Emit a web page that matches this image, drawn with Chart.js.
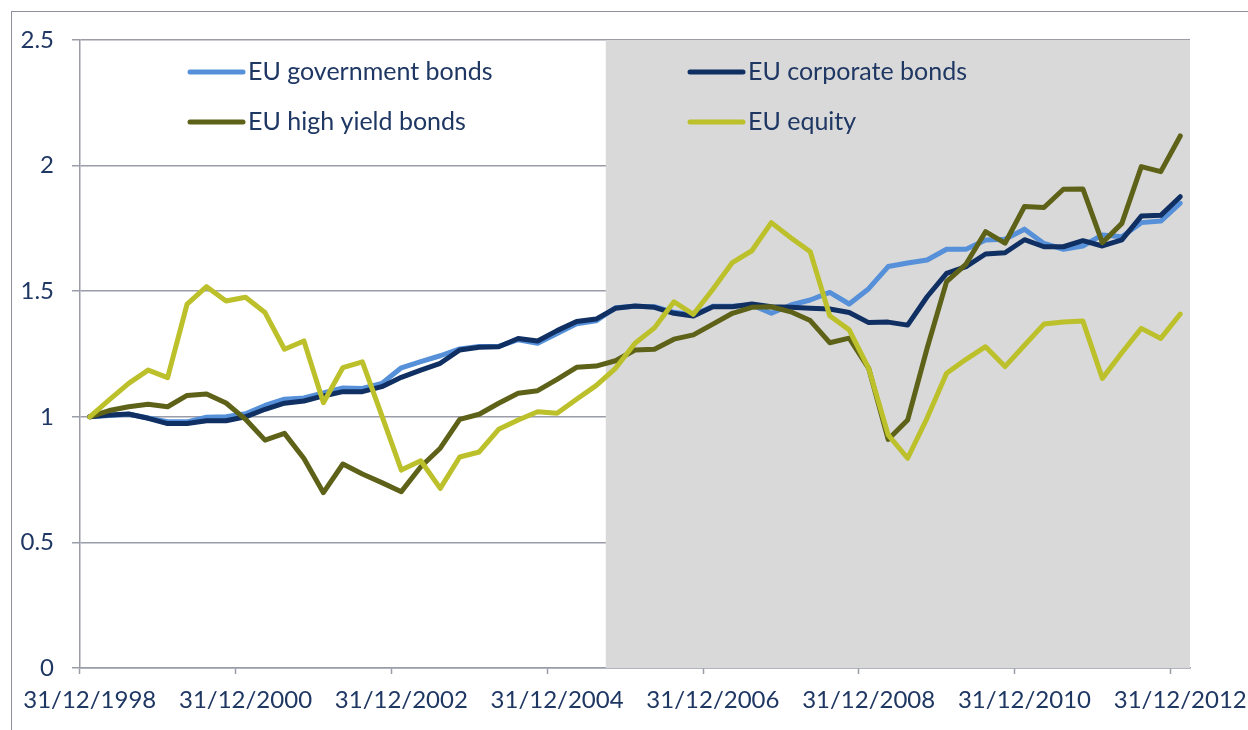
<!DOCTYPE html>
<html>
<head>
<meta charset="utf-8">
<script src="https://cdn.jsdelivr.net/npm/chart.js@4.4.0/dist/chart.umd.min.js"></script>
<style>
  body { margin: 0; background: #fff; }
  #wrap { position: relative; width: 1248px; height: 730px; }
  #frame { position: absolute; left: 11px; top: 11px; width: 1300px; height: 800px;
           border-left: 1.5px solid #8E909C; border-top: 1.5px solid #8E909C; }
</style>
</head>
<body>
<div id="wrap">
  <div id="frame"></div>
  <canvas id="line-chart"></canvas>
</div>
<script>
// quarterly dates, 31/12/1998 .. 31/12/2012
var quarterEnds = ['31/03', '30/06', '30/09', '31/12'];
var dates = ['31/12/1998'];
for (var yr = 1999; yr <= 2012; yr++) {
    quarterEnds.forEach(function (q) { dates.push(q + '/' + yr); });
}

var govBonds = [1.00, 1.005, 1.01, 0.995, 0.98, 0.98, 0.998, 1.00, 1.012, 1.045,
    1.07, 1.075, 1.095, 1.115, 1.113, 1.133, 1.195, 1.22, 1.243, 1.27,
    1.28, 1.28, 1.307, 1.293, 1.332, 1.37, 1.382, 1.434, 1.44, 1.438,
    1.416, 1.405, 1.44, 1.44, 1.445, 1.412, 1.445, 1.465, 1.495, 1.449,
    1.51, 1.598, 1.612, 1.624, 1.667, 1.667, 1.704, 1.707, 1.747, 1.69,
    1.667, 1.68, 1.724, 1.717, 1.773, 1.779, 1.85];

var corpBonds = [1.00, 1.007, 1.011, 0.994, 0.973, 0.973, 0.984, 0.984, 1.00, 1.03,
    1.054, 1.063, 1.083, 1.10, 1.10, 1.12, 1.157, 1.186, 1.213, 1.266,
    1.277, 1.279, 1.312, 1.302, 1.343, 1.379, 1.389, 1.432, 1.441, 1.436,
    1.412, 1.401, 1.438, 1.438, 1.449, 1.438, 1.436, 1.432, 1.429, 1.415,
    1.375, 1.377, 1.365, 1.478, 1.571, 1.598, 1.648, 1.653, 1.705, 1.677,
    1.677, 1.701, 1.68, 1.704, 1.799, 1.802, 1.876];

var highYield = [1.00, 1.025, 1.04, 1.05, 1.04, 1.085, 1.091, 1.055, 0.99, 0.907,
    0.934, 0.834, 0.698, 0.812, 0.772, 0.738, 0.702, 0.801, 0.875, 0.99,
    1.01, 1.054, 1.094, 1.104, 1.149, 1.197, 1.202, 1.223, 1.266, 1.269,
    1.309, 1.326, 1.369, 1.412, 1.436, 1.438, 1.418, 1.383, 1.295, 1.313,
    1.193, 0.91, 0.987, 1.273, 1.538, 1.608, 1.737, 1.691, 1.837, 1.833,
    1.906, 1.907, 1.693, 1.77, 1.996, 1.976, 2.118];

var equity = [1.00, 1.067, 1.133, 1.186, 1.156, 1.449, 1.518, 1.461, 1.476, 1.415,
    1.269, 1.302, 1.056, 1.196, 1.219, 1.005, 0.788, 0.825, 0.715, 0.84,
    0.86, 0.95, 0.987, 1.02, 1.014, 1.07, 1.124, 1.193, 1.293, 1.354,
    1.458, 1.408, 1.508, 1.614, 1.661, 1.773, 1.713, 1.657, 1.402, 1.346,
    1.193, 0.928, 0.835, 0.995, 1.173, 1.229, 1.279, 1.20, 1.285, 1.369,
    1.377, 1.381, 1.153, 1.255, 1.352, 1.312, 1.409];

var yTicks = [0, 0.5, 1, 1.5, 2, 2.5];
var labelEvery = 8;          // one x label every 2 years
var shadeFrom = '30/09/2005'; // grey period starts here

var textColor = '#1F3763';
var axisColor = '#9A9CA8';
var fontFamily = 'Lato, "Open Sans", sans-serif';

// grey background for the later period, behind the lines but over the grid
var shadePlugin = {
    id: 'shade',
    beforeDatasetsDraw: function (chart) {
        var x = chart.scales.x, a = chart.chartArea, ctx = chart.ctx;
        var idx = dates.indexOf(shadeFrom);
        var half = (x.getPixelForTick(1) - x.getPixelForTick(0)) / 2;
        var left = x.getPixelForTick(idx) - half;
        ctx.save();
        ctx.fillStyle = '#D9D9D9';
        ctx.fillRect(left, a.top, a.right - left, a.bottom - a.top);
        ctx.restore();
    }
};

// 2x2 legend inside the plot
var legendPlugin = {
    id: 'gridLegend',
    afterDraw: function (chart) {
        var ctx = chart.ctx, a = chart.chartArea;
        ctx.save();
        ctx.font = '25px ' + fontFamily;
        ctx.textBaseline = 'middle';
        chart.data.datasets.forEach(function (ds, i) {
            var col = i % 2, row = Math.floor(i / 2);
            var x = a.left + 110 + col * 500;
            var y = a.top + 32 + row * 50;
            ctx.strokeStyle = ds.borderColor;
            ctx.lineWidth = 5;
            ctx.lineCap = 'round';
            ctx.beginPath();
            ctx.moveTo(x, y);
            ctx.lineTo(x + 53, y);
            ctx.stroke();
            ctx.fillStyle = textColor;
            ctx.fillText(ds.label, x + 58, y);
        });
        ctx.restore();
    }
};

function series(label, data, color, order) {
    return {
        label: label,
        data: data,
        borderColor: color,
        backgroundColor: color,
        borderWidth: 5,
        borderJoinStyle: 'round',
        borderCapStyle: 'round',
        pointRadius: 0,
        tension: 0,
        fill: false,
        order: order
    };
}

var ctx = document.getElementById('line-chart');

var config = {
    type: 'line',
    data: {
        labels: dates,
        datasets: [
            series('EU government bonds', govBonds, '#5590D9', 3),
            series('EU corporate bonds', corpBonds, '#102F63', 2),
            series('EU high yield bonds', highYield, '#5E6218', 1),
            series('EU equity', equity, '#BCC02A', 0)
        ]
    },
    options: {
        responsive: true,
        maintainAspectRatio: false,
        animation: false,
        layout: { padding: { top: 40, right: 58, bottom: 0, left: 0 } },
        plugins: { legend: { display: false }, tooltip: { enabled: false } },
        scales: {
            x: {
                offset: true,
                grid: {
                    offset: true,
                    drawOnChartArea: false,
                    tickLength: 6,
                    tickWidth: 1.5,
                    tickColor: function (c) { return c.index % labelEvery === 0 ? axisColor : 'rgba(0,0,0,0)'; }
                },
                border: { color: axisColor, width: 1.5 },
                ticks: {
                    autoSkip: false,
                    maxRotation: 0,
                    minRotation: 0,
                    padding: 12,
                    color: textColor,
                    font: { family: fontFamily, size: 24 },
                    callback: function (v, i) { return i % labelEvery === 0 ? dates[i] : ''; }
                },
                afterFit: function (s) {
                    s.height = 62;
                    s.paddingLeft = 0;
                    s.paddingRight = 0;
                }
            },
            y: {
                min: yTicks[0],
                max: yTicks[yTicks.length - 1],
                afterBuildTicks: function (s) { s.ticks = yTicks.map(function (v) { return { value: v }; }); },
                grid: { color: axisColor, lineWidth: 1.5, tickLength: 8 },
                border: { color: axisColor, width: 1.5 },
                ticks: {
                    padding: 18,
                    color: textColor,
                    font: { family: fontFamily, size: 24 },
                    callback: function (v) { return String(v); }
                },
                afterFit: function (s) { s.width = 80; }
            }
        }
    },
    plugins: [shadePlugin, legendPlugin]
};

// Create the chart
var lineChart = new Chart(ctx, config);
</script>
</body>
</html>
